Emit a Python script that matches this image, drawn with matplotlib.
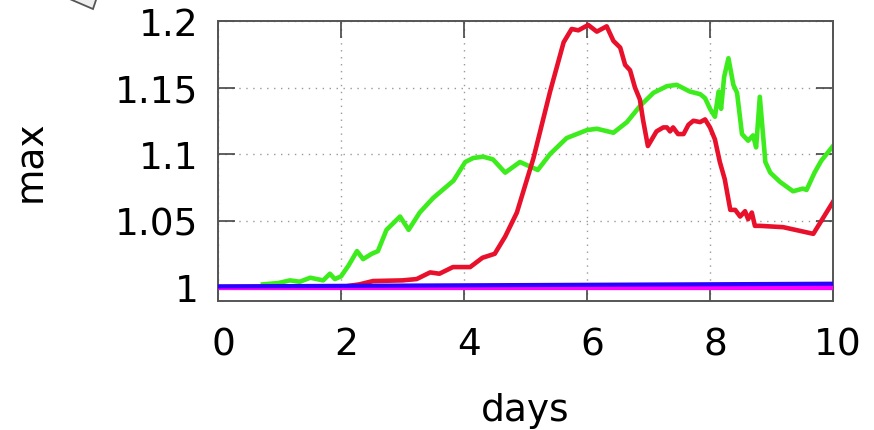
import matplotlib
matplotlib.use("Agg")
import matplotlib.pyplot as plt
from matplotlib.patches import Polygon
from matplotlib.transforms import ScaledTranslation

# ---- data ----
red_days = [0, 2.0, 2.3, 2.52, 3.0, 3.23, 3.45, 3.6, 3.82, 4.1, 4.3, 4.5, 4.67, 4.86, 5.13, 5.4,
            5.62, 5.75, 5.86, 6.02, 6.16, 6.32, 6.43, 6.54, 6.62, 6.7, 6.78, 6.86, 6.91, 6.99,
            7.13, 7.24, 7.3, 7.35, 7.4, 7.48, 7.57, 7.65, 7.73, 7.84, 7.92, 8.0, 8.08, 8.16,
            8.24, 8.33, 8.41, 8.49, 8.57, 8.62, 8.68, 8.73, 8.81, 9.19, 9.68, 10.0]
red_vals = [1.0, 1.0, 1.002, 1.0045, 1.005, 1.006, 1.011, 1.01, 1.015, 1.015, 1.022, 1.025, 1.038,
            1.056, 1.097, 1.147, 1.184, 1.194, 1.193, 1.197, 1.192, 1.196, 1.185, 1.18, 1.167,
            1.163, 1.15, 1.141, 1.126, 1.106, 1.117, 1.12, 1.12, 1.117, 1.12, 1.115, 1.115,
            1.122, 1.125, 1.124, 1.126, 1.12, 1.111, 1.094, 1.081, 1.058, 1.058, 1.053, 1.057,
            1.051, 1.056, 1.046, 1.046, 1.045, 1.04, 1.064]

green_days = [0.73, 0.98, 1.17, 1.33, 1.5, 1.71, 1.82, 1.9, 2.0, 2.12, 2.26, 2.36, 2.5, 2.6,
              2.74, 2.96, 3.1, 3.28, 3.5, 3.83, 4.02, 4.15, 4.31, 4.47, 4.67, 4.91, 5.2, 5.4,
              5.67, 6.0, 6.16, 6.43, 6.65, 6.86, 7.08, 7.3, 7.46, 7.67, 7.84, 7.92, 8.0, 8.08,
              8.14, 8.18, 8.23, 8.3, 8.38, 8.44, 8.52, 8.62, 8.7, 8.75, 8.81, 8.9, 8.98, 9.14,
              9.35, 9.51, 9.57, 9.7, 9.81, 10.0]
green_vals = [1.002, 1.003, 1.005, 1.004, 1.007, 1.005, 1.01, 1.006, 1.008, 1.016, 1.027,
              1.021, 1.025, 1.027, 1.043, 1.053, 1.043, 1.056, 1.067, 1.08, 1.094, 1.097, 1.098,
              1.096, 1.086, 1.094, 1.088, 1.1, 1.112, 1.118, 1.119, 1.116, 1.124, 1.136, 1.146,
              1.151, 1.152, 1.147, 1.145, 1.142, 1.134, 1.128, 1.147, 1.134, 1.158, 1.172, 1.152,
              1.146, 1.115, 1.11, 1.114, 1.105, 1.143, 1.094, 1.086, 1.079, 1.072, 1.074, 1.073,
              1.086, 1.095, 1.106]

blue_days = [0, 10]
blue_vals = [1.0005, 1.0025]
magenta_days = [0, 10]
magenta_vals = [1.0, 1.0]

xticks = [0, 2, 4, 6, 8, 10]
xtick_labels = ["0", "2", "4", "6", "8", "10"]
yticks = [1.0, 1.05, 1.1, 1.15, 1.2]
ytick_labels = ["1", "1.05", "1.1", "1.15", "1.2"]

# ---- figure ----
plt.rcParams['font.family'] = ['DejaVu Sans']
fig = plt.figure(figsize=(8.74, 4.31), dpi=100)
ax = fig.add_axes([218/874, 1 - 302/431, (833-218)/874, (302-22)/431])

ax.plot(magenta_days, magenta_vals, color='#ff00ff', lw=3.8, solid_capstyle='butt', zorder=3)
ax.plot(blue_days, blue_vals, color='#2a00ff', lw=3.0, solid_capstyle='butt', zorder=4)
ax.plot(green_days, green_vals, color='#3cec1c', lw=3.3, zorder=2)
ax.plot(red_days, red_vals, color='#e8102a', lw=3.3, zorder=2)

ax.set_xlim(0, 10)
ax.set_ylim(0.9895, 1.2)
ax.set_xticks(xticks)
ax.set_xticklabels(xtick_labels)
ax.set_yticks(yticks)
ax.set_yticklabels(ytick_labels)

ax.grid(True, color='#999999', linestyle=(0, (1, 4)), linewidth=1.0)
ax.tick_params(direction='in', length=12, width=1.2, color='#444444',
               top=True, right=True, labelsize=27, pad=14)
ax.tick_params(axis='x', pad=18)
for s in ax.spines.values():
    s.set_color('#555555')
    s.set_linewidth(1.4)

shift = ScaledTranslation(5/100, 0, fig.dpi_scale_trans)
for lbl in ax.get_xticklabels():
    lbl.set_transform(lbl.get_transform() + shift)

ax.set_xlabel('days', fontsize=27)
ax.set_ylabel('max', fontsize=27)
ax.xaxis.set_label_coords(0.499, -0.389)
ax.xaxis.label.set_va('center')
ax.yaxis.set_label_coords(-0.304, 0.504)
ax.yaxis.label.set_va('center')

# partial rotated box in the top-left corner
tri = Polygon([(65/874, 1 + 2/431), (93/874, 1 - 10/431), (97/874, 1 + 2/431)],
              closed=True, transform=fig.transFigure, facecolor='#efefef',
              edgecolor='#555555', lw=1.3, clip_on=False)
fig.patches.append(tri)

fig.savefig('out.png', dpi=100)
